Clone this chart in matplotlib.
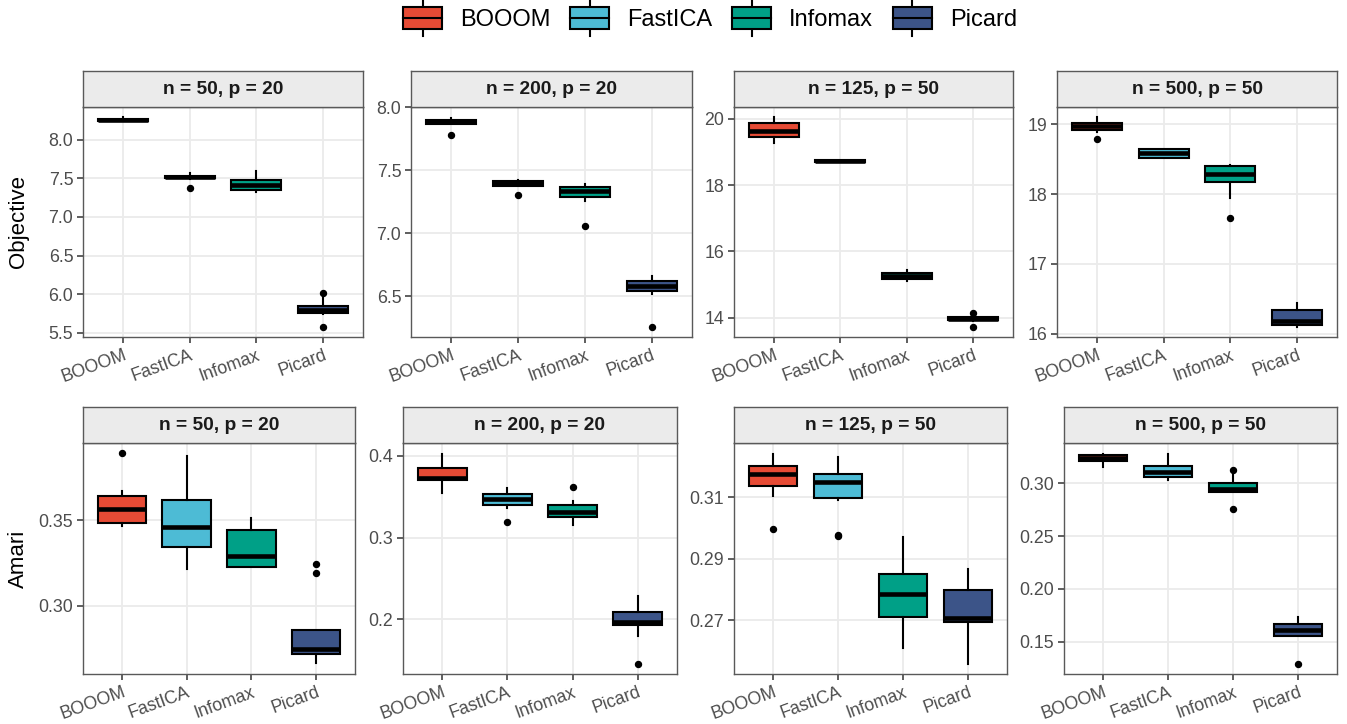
import numpy as np
import matplotlib
matplotlib.use('Agg')
import matplotlib.pyplot as plt
from matplotlib.patches import Rectangle
from matplotlib.lines import Line2D
from matplotlib.legend_handler import HandlerBase

plt.rcParams['font.family'] = ['Liberation Sans', 'DejaVu Sans']

methods = ['BOOOM', 'FastICA', 'Infomax', 'Picard']
colors = ['#E64B35', '#4DBBD5', '#00A087', '#3C5488']
settings = ['n = 50, p = 20', 'n = 200, p = 20', 'n = 125, p = 50', 'n = 500, p = 50']
metrics = ['Objective', 'Amari']

# box stats, one row per setting, one value per method
obj_q1 = [[8.24, 7.50, 7.35, 5.75], [7.865, 7.375, 7.29, 6.54],
          [19.45, 18.70, 15.16, 13.93], [18.92, 18.51, 18.17, 16.12]]
obj_med = [[8.255, 7.52, 7.42, 5.79], [7.88, 7.395, 7.335, 6.58],
           [19.62, 18.72, 15.26, 13.97], [18.975, 18.59, 18.29, 16.19]]
obj_q3 = [[8.27, 7.535, 7.48, 5.85], [7.895, 7.415, 7.365, 6.62],
          [19.87, 18.745, 15.36, 14.01], [19.02, 18.64, 18.40, 16.34]]
obj_lo = [[8.24, 7.49, 7.32, 5.74], [7.865, 7.37, 7.255, 6.515],
          [19.26, 18.70, 15.09, 13.91], [18.89, 18.51, 17.94, 16.105]]
obj_hi = [[8.29, 7.57, 7.60, 5.98], [7.915, 7.42, 7.39, 6.663],
          [20.04, 18.745, 15.43, 14.03], [19.095, 18.64, 18.42, 16.44]]
obj_out = [[[], [7.38], [], [6.02, 5.58]],
           [[7.776], [7.30], [7.056], [6.26]],
           [[], [], [], [14.13, 13.73]],
           [[18.79], [], [17.66], []]]

ama_q1 = [[0.3487, 0.3342, 0.3227, 0.2717], [0.3702, 0.340, 0.3253, 0.1931],
          [0.3136, 0.3096, 0.2709, 0.2695], [0.3208, 0.3054, 0.2912, 0.1554]]
ama_med = [[0.3568, 0.3459, 0.3289, 0.2748], [0.3735, 0.347, 0.3314, 0.1963],
           [0.3174, 0.3149, 0.2785, 0.2706], [0.3234, 0.3107, 0.2943, 0.161]]
ama_q3 = [[0.3639, 0.3621, 0.3441, 0.2861], [0.3853, 0.3539, 0.3396, 0.2086],
          [0.3201, 0.3176, 0.2849, 0.2798], [0.3262, 0.3161, 0.300, 0.1664]]
ama_lo = [[0.3465, 0.3215, 0.3227, 0.2664], [0.3543, 0.336, 0.3155, 0.1796],
          [0.3103, 0.309, 0.2609, 0.2559], [0.3148, 0.3028, 0.2912, 0.1554]]
ama_hi = [[0.367, 0.3875, 0.3512, 0.2861], [0.403, 0.3604, 0.345, 0.2282],
          [0.3242, 0.323, 0.297, 0.2867], [0.328, 0.328, 0.3092, 0.1737]]
ama_out = [[[0.389], [], [], [0.3242, 0.3195]],
           [[], [0.3192], [0.3616], [0.1461]],
           [[0.2995], [0.2977, 0.2973], [], []],
           [[], [], [0.3123, 0.2754], [0.1295]]]

obj_ticks = [['5.5', '6.0', '6.5', '7.0', '7.5', '8.0'], ['6.5', '7.0', '7.5', '8.0'],
             ['14', '16', '18', '20'], ['16', '17', '18', '19']]
ama_ticks = [['0.30', '0.35'], ['0.2', '0.3', '0.4'],
             ['0.27', '0.29', '0.31'], ['0.15', '0.20', '0.25', '0.30']]

data = [(obj_q1, obj_med, obj_q3, obj_lo, obj_hi, obj_out, obj_ticks),
        (ama_q1, ama_med, ama_q3, ama_lo, ama_hi, ama_out, ama_ticks)]

# layout in pixels
W, H = 1347, 724
col_x = [[(83, 363), (411, 692), (734, 1013), (1057, 1337)],
         [(83, 355), (403, 677), (734, 1007), (1064, 1337)]]
row_y = [(71, 107, 337), (407, 443, 674)]  # strip top, panel top, panel bottom

fig = plt.figure(figsize=(W / 100, H / 100), dpi=100)

edge = '#595959'
for r in range(2):
    q1, med, q3, lo, hi, out, ticks = data[r]
    st_top, p_top, p_bot = row_y[r]
    for c in range(4):
        x0, x1 = col_x[r][c]
        ax = fig.add_axes([x0 / W, 1 - p_bot / H, (x1 - x0) / W, (p_bot - p_top) / H])
        stats = [dict(med=med[c][k], q1=q1[c][k], q3=q3[c][k], whislo=lo[c][k],
                      whishi=hi[c][k], fliers=out[c][k]) for k in range(4)]
        b = ax.bxp(stats, positions=[1, 2, 3, 4], widths=0.75, patch_artist=True,
                   showcaps=False,
                   boxprops=dict(edgecolor='black', linewidth=1.5),
                   medianprops=dict(color='black', linewidth=3.3),
                   whiskerprops=dict(color='black', linewidth=1.5),
                   flierprops=dict(marker='o', markerfacecolor='black',
                                   markeredgecolor='black', markersize=4.3))
        for patch, col in zip(b['boxes'], colors):
            patch.set_facecolor(col)
        allv = lo[c] + hi[c] + sum(out[c], [])
        vmin, vmax = min(allv), max(allv)
        pad = 0.05 * (vmax - vmin)
        ax.set_ylim(vmin - pad, vmax + pad)
        ax.set_xlim(0.4, 4.6)
        ax.set_yticks([float(t) for t in ticks[c]])
        ax.set_yticklabels(ticks[c])
        ax.set_xticks([1, 2, 3, 4])
        ax.set_xticklabels(methods, rotation=20, ha='right', va='top',
                           rotation_mode='anchor')
        ax.tick_params(labelsize=12.8, labelcolor='#4D4D4D', color='#333333',
                       length=4, width=1.1, pad=3)
        ax.grid(True, color='#EBEBEB', linewidth=1.3)
        ax.set_axisbelow(True)
        for s in ax.spines.values():
            s.set_color(edge)
            s.set_linewidth(1.0)

        sax = fig.add_axes([x0 / W, 1 - p_top / H, (x1 - x0) / W, (p_top - st_top) / H])
        sax.set_facecolor('#EBEBEB')
        sax.set_xticks([])
        sax.set_yticks([])
        for s in sax.spines.values():
            s.set_color(edge)
            s.set_linewidth(1.0)
        sax.text(0.5, 0.5, settings[c], ha='center', va='center', fontsize=13.8,
                 fontweight='bold', color='#1A1A1A', transform=sax.transAxes)

    fig.text(18.5 / W, 1 - (p_top + p_bot) / 2 / H, metrics[r], rotation=90,
             ha='center', va='center', fontsize=16, color='black')


class BoxKey(HandlerBase):
    def create_artists(self, legend, orig_handle, xdescent, ydescent, width, height,
                       fontsize, trans):
        x0, y0 = -xdescent, -ydescent
        cx = x0 + width / 2
        ext = height * 0.3
        wl = Line2D([cx, cx], [y0 - ext, y0 + height + ext], color='black', lw=1.5,
                    transform=trans)
        rect = Rectangle((x0, y0), width, height, facecolor=orig_handle.get_facecolor(),
                         edgecolor='black', lw=1.5, transform=trans)
        md = Line2D([x0, x0 + width], [y0 + height / 2] * 2, color='black', lw=1.5,
                    transform=trans)
        return [wl, rect, md]


handles = [Rectangle((0, 0), 1, 1, facecolor=c) for c in colors]
fig.legend(handles, methods, handler_map={Rectangle: BoxKey()}, ncol=4, loc='center',
           bbox_to_anchor=(710 / W, 1 - 19 / H), frameon=False, fontsize=17,
           handlelength=1.65, handleheight=1.1, handletextpad=0.75, columnspacing=0.85)

fig.savefig('out.png', dpi=100)
